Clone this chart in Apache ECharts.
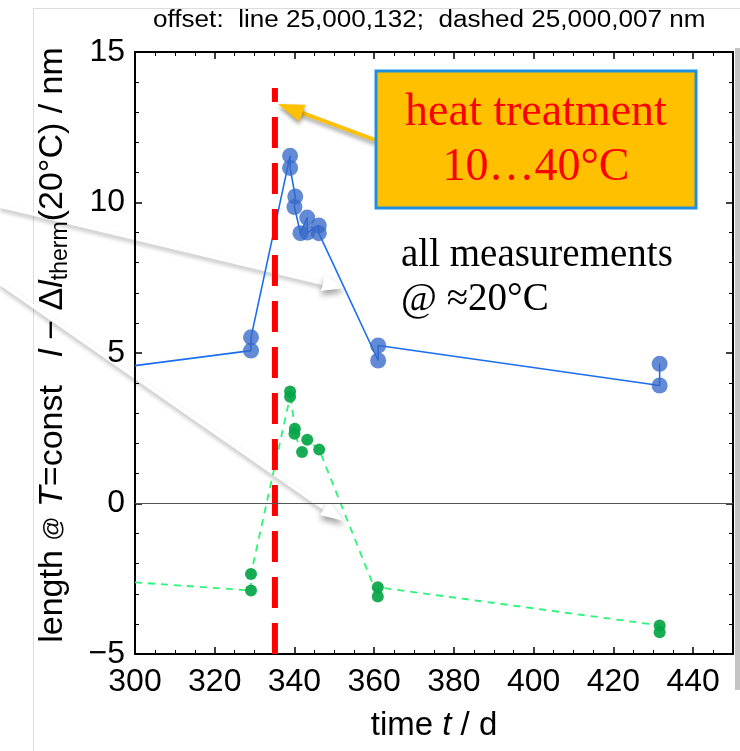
<!DOCTYPE html>
<html>
<head>
<meta charset="utf-8">
<script src="https://cdn.jsdelivr.net/npm/echarts@6/dist/echarts.min.js"></script>
<style>html,body{margin:0;padding:0;background:#fff}#c{width:740px;height:751px}</style>
</head>
<body>
<div id="c"></div>
<script>
// ---- data ----
const blueT = [300, 329.1, 329.1, 338.9, 338.9, 340.2, 340.0, 341.5, 343.2, 343.2, 346.1, 346.1, 361.0, 361.0, 431.6, 431.6];
const blueV = [4.58, 5.08, 5.52, 11.55, 11.15, 10.2, 9.85, 8.98, 9.5, 9.0, 9.24, 8.98, 4.75, 5.25, 3.92, 4.64];
const greenT = [300, 329.1, 329.1, 338.9, 338.9, 340.1, 340.0, 341.9, 343.2, 346.2, 360.9, 360.9, 431.6, 431.6];
const greenV = [-2.62, -2.89, -2.34, 3.55, 3.72, 2.48, 2.32, 1.71, 2.12, 1.79, -3.09, -2.78, -4.05, -4.28];
const heatT = 335.1;
const heatRange = [-5, 13.8];
const xTicks = [300, 320, 340, 360, 380, 400, 420, 440];
const yTicks = [-5, 0, 5, 10, 15];

const sans = 'Liberation Sans';
const serif = 'Liberation Serif';

function pts(ts, vs) {
  return ts.map((t, i) => i === 0 ? { value: [t, vs[i]], symbol: 'none' } : [t, vs[i]]);
}

const chart = echarts.init(document.getElementById('c'), null, { renderer: 'canvas' });

const axisCommon = {
  type: 'value',
  axisLine: { show: true, onZero: false, lineStyle: { color: '#000', width: 2 } },
  axisTick: { show: true, inside: true, length: 7, lineStyle: { color: '#000', width: 1.5 } },
  minorTick: { show: true, length: 4, lineStyle: { color: '#000', width: 1 } },
  splitLine: { show: false },
};

const option = {
  animation: false,
  backgroundColor: '#fff',
  grid: { left: 135, right: 7, top: 52, bottom: 97, containLabel: false },
  xAxis: [
    Object.assign({}, axisCommon, {
      min: 300, max: 450, interval: 20,
      minorTick: Object.assign({}, axisCommon.minorTick, { splitNumber: 4 }),
      axisLabel: {
        show: true, margin: 12, fontSize: 32, color: '#000', fontFamily: sans,
        showMaxLabel: false,
        formatter: v => xTicks.indexOf(v) >= 0 ? String(v) : ''
      },
      name: '{n|time }{i|t}{n| / d}',
      nameLocation: 'middle', nameGap: 55,
      nameTextStyle: {
        rich: {
          n: { fontSize: 33, fontFamily: sans, color: '#000' },
          i: { fontSize: 33, fontFamily: sans, fontStyle: 'italic', color: '#000' }
        }
      }
    }),
    Object.assign({}, axisCommon, {
      position: 'top', min: 300, max: 450, interval: 20,
      minorTick: Object.assign({}, axisCommon.minorTick, { splitNumber: 4 }),
      axisLabel: { show: false }
    })
  ],
  yAxis: [
    Object.assign({}, axisCommon, {
      min: -5, max: 15, interval: 5,
      minorTick: Object.assign({}, axisCommon.minorTick, { splitNumber: 5 }),
      axisLabel: {
        show: true, margin: 10, fontSize: 32, color: '#000', fontFamily: sans,
        formatter: v => yTicks.indexOf(v) >= 0 ? String(v).replace('-', '\u2212') : ''
      },
      name: '{n|length }{a|@}{n| }{i|T}{n|=const   }{i|l}{n| \u2212 \u0394}{i|l}{s|therm}{n|(20°C) / nm}',
      nameLocation: 'middle', nameGap: 63, nameRotate: 90,
      nameTextStyle: {
        padding: [0, 0, 0, 16],
        rich: {
          n: { fontSize: 34, fontFamily: sans, color: '#000', lineHeight: 38 },
          a: { fontSize: 24, fontFamily: sans, color: '#000', lineHeight: 38 },
          i: { fontSize: 34, fontFamily: sans, fontStyle: 'italic', color: '#000', lineHeight: 38 },
          s: { fontSize: 23, fontFamily: sans, color: '#000', verticalAlign: 'bottom', lineHeight: 20 }
        }
      }
    }),
    Object.assign({}, axisCommon, {
      position: 'right', min: -5, max: 15, interval: 5,
      minorTick: Object.assign({}, axisCommon.minorTick, { splitNumber: 5 }),
      axisLabel: { show: false }
    })
  ],
  series: [
    {
      type: 'line', name: 'line',
      data: pts(blueT, blueV),
      symbol: 'circle', symbolSize: 16,
      itemStyle: { color: 'rgba(55,105,200,0.78)' },
      lineStyle: { color: '#1a6ef0', width: 1.6 },
      z: 3,
      markLine: {
        silent: true, symbol: 'none', label: { show: false },
        lineStyle: { color: '#555', width: 1.2, type: 'solid' },
        data: [{ yAxis: 0 }]
      }
    },
    {
      type: 'line', name: 'dashed',
      data: pts(greenT, greenV),
      symbol: 'circle', symbolSize: 12,
      itemStyle: { color: 'rgba(5,165,70,0.92)' },
      lineStyle: { color: '#2af576', width: 1.8, type: [7, 6] },
      z: 3
    },
    {
      type: 'line', name: 'heat',
      data: [[heatT, heatRange[0]], [heatT, heatRange[1]]],
      symbol: 'none',
      lineStyle: { color: '#ff0000', width: 6, type: [31, 15] },
      z: 4
    }
  ],
  graphic: [
    // slide frame
    { type: 'line', shape: { x1: 33.5, y1: 8, x2: 33.5, y2: 751 }, style: { stroke: '#dcdcdc', lineWidth: 1 }, z: 0 },
    { type: 'line', shape: { x1: 33, y1: 8.5, x2: 740, y2: 8.5 }, style: { stroke: '#dcdcdc', lineWidth: 1 }, z: 0 },
    { type: 'rect', shape: { x: 735, y: 48, width: 5, height: 642 }, style: { fill: '#c4c4c4' }, z: 0 },
    // title
    {
      type: 'text', x: 153, y: 21, scaleX: 1.135,
      style: { x: 0, y: 0, text: 'offset:  line 25,000,132;  dashed 25,000,007 nm', font: '23px "Liberation Sans"', fill: '#000', textVerticalAlign: 'middle' },
      z: 10
    },
    // white arrows
    {
      type: 'group', z: 20, children: [
        { type: 'line', shape: { x1: 0, y1: 206, x2: 326, y2: 284 }, style: { stroke: '#fff', lineWidth: 3.5, shadowColor: 'rgba(0,0,0,0.28)', shadowBlur: 4, shadowOffsetY: 3 } },
        { type: 'polygon', shape: { points: [[344, 288], [321, 291], [325, 275]] }, style: { fill: '#fff', shadowColor: 'rgba(0,0,0,0.4)', shadowBlur: 6, shadowOffsetY: 4 } },
        { type: 'line', shape: { x1: 0, y1: 283, x2: 325, y2: 509 }, style: { stroke: '#fff', lineWidth: 3.5, shadowColor: 'rgba(0,0,0,0.28)', shadowBlur: 4, shadowOffsetY: 3 } },
        { type: 'polygon', shape: { points: [[344, 521], [320, 515], [329, 501]] }, style: { fill: '#fff', shadowColor: 'rgba(0,0,0,0.4)', shadowBlur: 6, shadowOffsetY: 4 } }
      ]
    },
    // orange arrow
    {
      type: 'group', z: 20, children: [
        { type: 'line', shape: { x1: 378, y1: 141, x2: 300, y2: 112 }, style: { stroke: '#ffc000', lineWidth: 4, shadowColor: 'rgba(0,0,0,0.4)', shadowBlur: 4, shadowOffsetY: 3 } },
        { type: 'polygon', shape: { points: [[278, 104], [305.6, 104.7], [299.2, 121.5]] }, style: { fill: '#ffc000', shadowColor: 'rgba(0,0,0,0.4)', shadowBlur: 4, shadowOffsetY: 3 } }
      ]
    },
    // heat box
    { type: 'rect', shape: { x: 376, y: 71, width: 320, height: 137 }, style: { fill: '#ffc000', stroke: '#1f8fe0', lineWidth: 3 }, z: 21 },
    { type: 'text', x: 536, y: 113, style: { text: 'heat treatment', font: '46px "Liberation Serif"', fill: '#ff0000', textAlign: 'center', textVerticalAlign: 'middle' }, z: 22 },
    { type: 'text', x: 536, y: 168, style: { text: '10\u202640°C', font: '46px "Liberation Serif"', fill: '#ff0000', textAlign: 'center', textVerticalAlign: 'middle' }, z: 22 },
    // note
    { type: 'text', x: 401, y: 256, style: { text: 'all measurements', font: '39px "Liberation Serif"', fill: '#000', textVerticalAlign: 'middle' }, z: 22 },
    { type: 'text', x: 401, y: 300, style: { text: '@ \u224820°C', font: '39px "Liberation Serif"', fill: '#000', textVerticalAlign: 'middle' }, z: 22 }
  ]
};

chart.setOption(option);
</script>
</body>
</html>
